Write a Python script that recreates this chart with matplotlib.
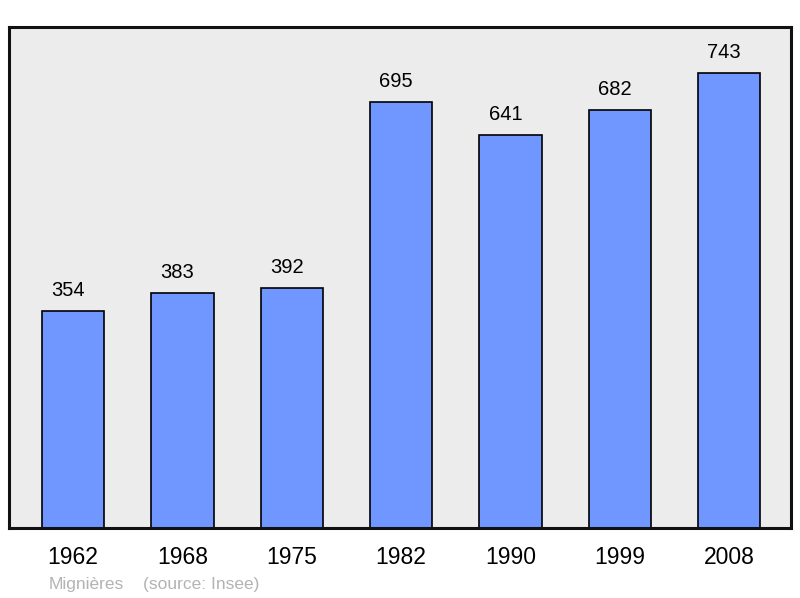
import matplotlib

matplotlib.use("Agg")

import matplotlib.pyplot as plt
import numpy as np

years = ["1962", "1968", "1975", "1982", "1990", "1999", "2008"]
population = [354, 383, 392, 695, 641, 682, 743]
place = "Mignières"
source = "(source: Insee)"

plt.rcParams["font.family"] = ["Liberation Sans", "DejaVu Sans"]

fig = plt.figure(figsize=(8, 5.98), dpi=100)
ax = fig.add_axes([0.01125, 0.117, 0.9775, 0.838])
ax.set_facecolor("#ececec")

x = np.arange(len(years))
bars = ax.bar(x, population, width=0.57, color="#7096ff", edgecolor="black", linewidth=1.2)
for rect, val in zip(bars, population):
    ax.annotate(str(val), (rect.get_x() + rect.get_width() / 2, val),
                xytext=(-3.6, 8), textcoords="offset points",
                ha="center", va="bottom", fontsize=14.5)

ax.set_xlim(-0.585, 6.565)
ax.set_ylim(0, 818)
ax.set_xticks(x)
ax.set_xticklabels(years, fontsize=16.5)
ax.set_yticks([])
ax.tick_params(axis="x", length=0, pad=13)
for sp in ax.spines.values():
    sp.set_linewidth(2.2)
    sp.set_color("#111111")

fig.text(49 / 800, 1 - 584 / 598, place, color="#b3b3b3", fontsize=12.5, va="center")
fig.text(143 / 800, 1 - 584 / 598, source, color="#b3b3b3", fontsize=12.5, va="center")

fig.savefig("out.png", dpi=100)
plt.close(fig)
